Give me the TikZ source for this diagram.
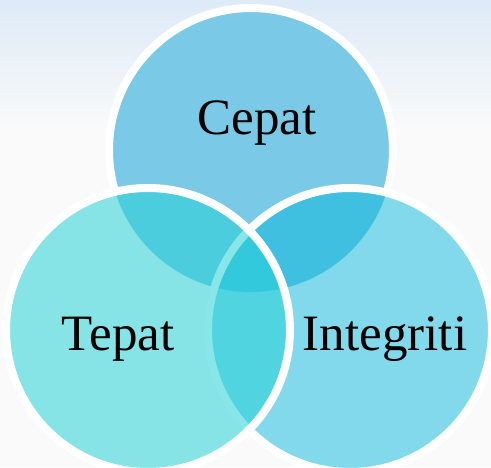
\documentclass[tikz,border=0pt]{standalone}
\usepackage{fontspec}
\setmainfont{Liberation Serif}
\usetikzlibrary{positioning}
\definecolor{bg_top}{RGB}{221,234,247}
\definecolor{bg_low}{RGB}{250,250,250}
\definecolor{fill_top}{RGB}{122,201,230}
\definecolor{fill_left}{RGB}{39,210,216}
\definecolor{fill_right}{RGB}{0,183,219}

\begin{document}
\begin{tikzpicture}[x=1pt, y=1pt,
    ring/.style ={draw=white, line width=8pt},
    disc_top/.style ={fill=fill_top},
    disc_left/.style ={fill=fill_left, fill opacity=0.55},
    disc_right/.style ={fill=fill_right, fill opacity=0.48},
    label_big/.style ={font=\fontsize{51}{60}\selectfont, anchor=base, inner sep=0pt}]
    % background
    \useasboundingbox (0,0) rectangle (491,467);
    \clip (0,0) rectangle (491,467);
    \fill [bg_low] (0,0) rectangle (491,467);
    \shade [top color=bg_top, bottom color=bg_low] (0,337) rectangle (491,467);
    % centres
    \coordinate (c_top) at (251,317);
    \coordinate (c_left) at (148,137);
    \coordinate (c_right) at (350,137);
    % top circle
    \path [disc_top] (c_top) circle (142pt);
    \begin{scope}[even odd rule]
      \clip (0,0) rectangle (491,467) (c_left) circle (142pt);
      \clip (0,0) rectangle (491,467) (c_right) circle (142pt);
      \path [ring] (c_top) circle (142pt);
    \end{scope}
    % right circle
    \path [disc_right] (c_right) circle (142pt);
    \path [ring] (c_right) circle (142pt);
    % left circle
    \path [disc_left] (c_left) circle (142pt);
    \path [ring] (c_left) circle (142pt);
    % labels
    \node [label_big] (cepat) at (257,332) {Cepat};
    \node [label_big] (tepat) at (118,117) {Tepat};
    \node [label_big] (integriti) at (385,117) {Integriti};
  \end{tikzpicture}
\end{document}
